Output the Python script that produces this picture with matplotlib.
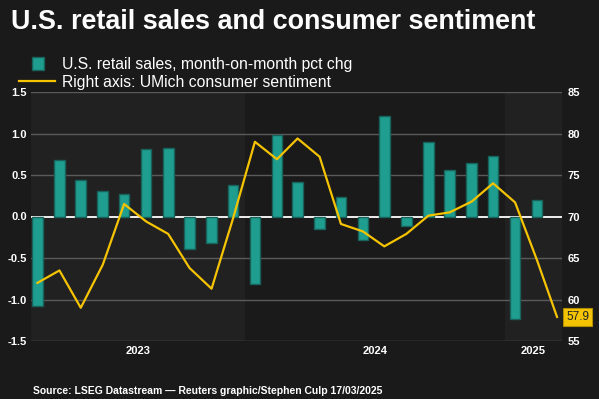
import matplotlib
matplotlib.use("Agg")
import matplotlib.pyplot as plt
import matplotlib.dates as mdates
import matplotlib.transforms as mtransforms
import pandas as pd

# ---- data ----
bar_months = pd.date_range("2023-03-01", periods=24, freq="MS") + pd.Timedelta(days=14)
retail_mom = [-1.08, 0.68, 0.44, 0.31, 0.27, 0.81, 0.83, -0.39, -0.32, 0.38,
              -0.81, 0.98, 0.41, -0.15, 0.24, -0.28, 1.21, -0.11, 0.90, 0.56,
              0.65, 0.73, -1.23, 0.20]
line_months = pd.date_range("2023-03-01", periods=25, freq="MS") + pd.Timedelta(days=14)
sentiment = [62.0, 63.5, 59.0, 64.2, 71.5, 69.4, 67.9, 63.8, 61.3, 69.7,
             79.0, 76.9, 79.4, 77.2, 69.1, 68.2, 66.4, 67.9, 70.1, 70.5,
             71.8, 74.0, 71.7, 64.7, 57.9]
left_ticks = [-1.5, -1.0, -0.5, 0.0, 0.5, 1.0, 1.5]
right_ticks = [55, 60, 65, 70, 75, 80, 85]
years = ["2023", "2024", "2025"]

BG = "#1a1a1a"
BAND = "#212121"
TEAL = "#1f9e8f"
TEAL_EDGE = "#17635b"
YELLOW = "#f5c400"
GRID = "#5a5a5a"
FONT = ["Liberation Sans", "DejaVu Sans"]
plt.rcParams["font.family"] = FONT

W, H = 599, 399
fig = plt.figure(figsize=(W / 100, H / 100), dpi=100, facecolor=BG)
x0, x1, ytop, ybot = 31, 562, 92, 341
ax = fig.add_axes([x0 / W, 1 - ybot / H, (x1 - x0) / W, (ybot - ytop) / H])
ax.set_facecolor(BG)

xmin = pd.Timestamp("2023-03-06")
xmax = pd.Timestamp("2025-03-22")
ax.set_xlim(xmin, xmax)
ax.set_ylim(-1.5, 1.5)

# year bands
bounds = [xmin, pd.Timestamp("2024-01-01"), pd.Timestamp("2025-01-01"), xmax]
band_colors = [BAND, BG, BAND]
for i in range(3):
    ax.axvspan(bounds[i], bounds[i + 1], color=band_colors[i], zorder=0, lw=0)

# grid
for t in left_ticks:
    ax.axhline(t, color=("white" if t == 0 else GRID), lw=(1.3 if t == 0 else 1.0), zorder=1)

ax.bar(bar_months, retail_mom, width=15, color=TEAL, edgecolor=TEAL_EDGE,
       linewidth=1, zorder=2, label="U.S. retail sales, month-on-month pct chg")

ax.set_yticks(left_ticks)
ax.set_yticklabels([f"{t:.1f}" for t in left_ticks])
ax.tick_params(axis="y", length=0, pad=3, labelsize=8, labelcolor="white")
for lbl in ax.get_yticklabels():
    lbl.set_fontweight("bold")
ax.set_xticks([])
for s in ax.spines.values():
    s.set_visible(False)

ax2 = ax.twinx()
ax2.set_ylim(55, 85)
ax2.plot(line_months, sentiment, color=YELLOW, lw=1.6, zorder=3,
         label="Right axis: UMich consumer sentiment")
ax2.set_yticks(right_ticks)
ax2.tick_params(axis="y", length=0, pad=4, labelsize=8, labelcolor="white")
for lbl in ax2.get_yticklabels():
    lbl.set_fontweight("bold")
for s in ax2.spines.values():
    s.set_visible(False)

# last value label
ax2.annotate(f"{sentiment[-1]:.1f}", xy=(1, sentiment[-1]),
             xycoords=("axes fraction", "data"), xytext=(3, 0),
             textcoords="offset points", ha="left", va="center",
             fontsize=8.5, color="#222222",
             bbox=dict(boxstyle="square,pad=0.25", fc=YELLOW, ec="#b08c00", lw=0.8))

# year labels
trans = mtransforms.blended_transform_factory(ax.transData, ax.transAxes)
for i, y in enumerate(years):
    a = mdates.date2num(bounds[i])
    b = mdates.date2num(bounds[i + 1])
    ax.text((a + b) / 2, -0.02, y, transform=trans, ha="center", va="top",
            fontsize=8, fontweight="bold", color="white")

# title
fig.text(11 / W, 1 - 22 / H, "U.S. retail sales and consumer sentiment",
         ha="left", va="center", fontsize=19.4, fontweight="bold", color="white")

# legend (manual)
from matplotlib.patches import Rectangle
from matplotlib.lines import Line2D
fig.patches.append(Rectangle((32 / W, 1 - 70 / H), 12 / W, 13 / H,
                             transform=fig.transFigure, fc=TEAL, ec=TEAL_EDGE, lw=1))
fig.lines.append(Line2D([19 / W, 55 / W], [1 - 81 / H, 1 - 81 / H],
                        transform=fig.transFigure, color=YELLOW, lw=1.6))
fig.text(62 / W, 1 - 64 / H, "U.S. retail sales, month-on-month pct chg",
         ha="left", va="center", fontsize=11.3, color="white")
fig.text(62 / W, 1 - 82 / H, "Right axis: UMich consumer sentiment",
         ha="left", va="center", fontsize=11.3, color="white")

fig.text(33 / W, 1 - 391 / H,
         "Source: LSEG Datastream \u2014 Reuters graphic/Stephen Culp 17/03/2025",
         ha="left", va="center", fontsize=7.5, fontweight="bold", color="white")

fig.savefig("out.png", dpi=100, facecolor=BG)
